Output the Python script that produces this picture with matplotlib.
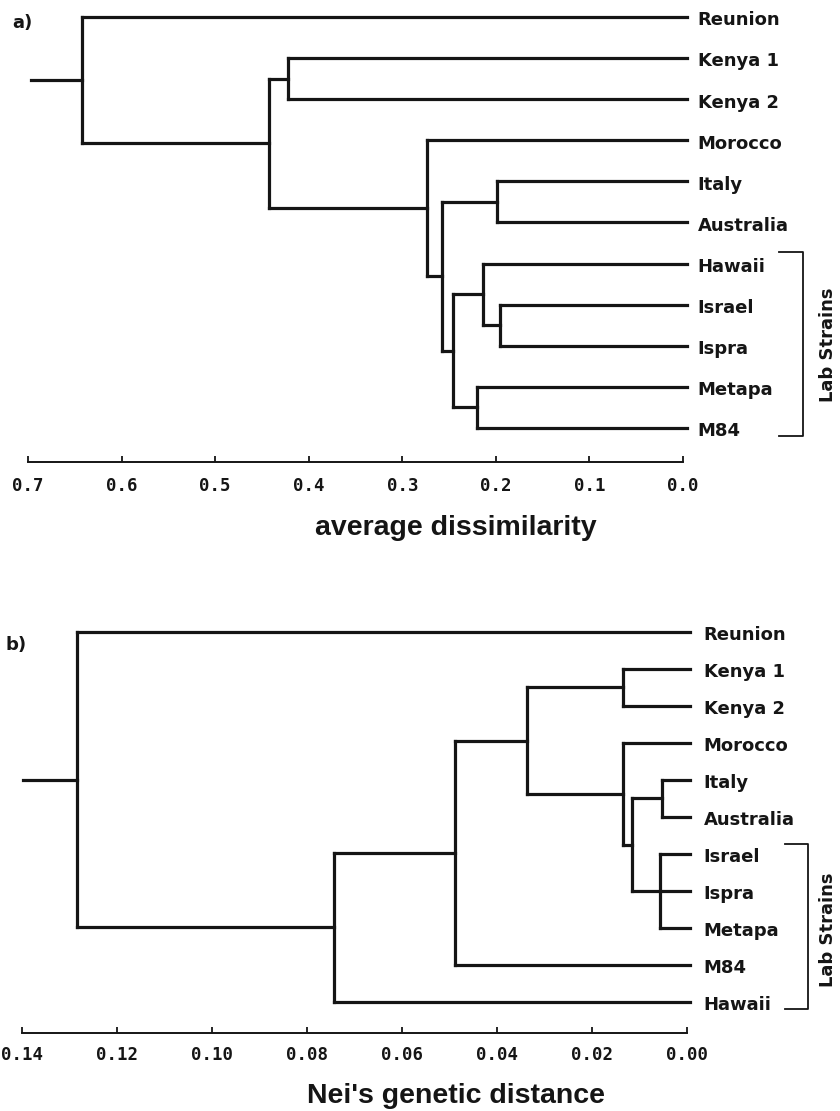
import matplotlib
matplotlib.use('Agg')
import matplotlib.pyplot as plt
import matplotlib.transforms as mtrans

W, H, DPI = 840, 1111, 100

# ---------------- data: panel a (average dissimilarity) ----------------
a_leaves = ['Reunion', 'Kenya 1', 'Kenya 2', 'Morocco', 'Italy', 'Australia',
            'Hawaii', 'Israel', 'Ispra', 'Metapa', 'M84']
# merges (indices: leaves 0..10, new nodes 11..)
a_children = [[7, 8], [4, 5], [6, 11], [9, 10], [13, 14], [12, 15],
              [3, 16], [1, 2], [18, 17], [0, 19]]
a_heights = [0.1955, 0.199, 0.2137, 0.220, 0.2457, 0.2575,
             0.2735, 0.422, 0.442, 0.642]
a_root_stub = 0.697
a_ticks = [0.7, 0.6, 0.5, 0.4, 0.3, 0.2, 0.1, 0.0]
a_ticklabels = ['0.7', '0.6', '0.5', '0.4', '0.3', '0.2', '0.1', '0.0']
a_xlabel = 'average dissimilarity'

# ---------------- data: panel b (Nei's genetic distance) ----------------
b_leaves = ['Reunion', 'Kenya 1', 'Kenya 2', 'Morocco', 'Italy', 'Australia',
            'Israel', 'Ispra', 'Metapa', 'M84', 'Hawaii']
b_children = [[6, 7, 8], [4, 5], [12, 11], [3, 13], [1, 2], [15, 14],
              [16, 9], [17, 10], [0, 18]]
b_heights = [0.0057, 0.0053, 0.0116, 0.0134, 0.0134, 0.0337,
             0.0488, 0.0743, 0.1284]
b_root_stub = 0.1398
b_ticks = [0.14, 0.12, 0.10, 0.08, 0.06, 0.04, 0.02, 0.00]
b_ticklabels = ['0.14', '0.12', '0.10', '0.08', '0.06', '0.04', '0.02', '0.00']
b_xlabel = "Nei's genetic distance"

bracket_label = 'Lab Strains'

LW = 2.3
LABEL_FONT = dict(family='DejaVu Sans', weight='bold', size=13)
TICK_FONT = dict(family='DejaVu Sans Mono', weight='bold', size=12.5)
XLABEL_FONT = dict(family='Liberation Sans', weight='bold', size=20.5)


def draw_tree(ax, leaves, children, heights, stub, overhang):
    n = len(leaves)
    pos_y = [float(i) for i in range(n)]
    pos_x = [0.0] * n
    kw = dict(color='#151515', lw=LW, solid_capstyle='projecting', clip_on=False)
    for ch, h in zip(children, heights):
        cy = [pos_y[c] for c in ch]
        ax.plot([h, h], [min(cy), max(cy)], **kw)
        for c in ch:
            x0 = pos_x[c] if c >= n else -overhang
            ax.plot([x0, h], [pos_y[c], pos_y[c]], **kw)
        pos_y.append(sum(cy) / len(cy))
        pos_x.append(h)
    ax.plot([stub, pos_x[-1]], [pos_y[-1], pos_y[-1]], **kw)


def setup_axis(ax, xmax, ylow, ticks, ticklabels, pad):
    ax.set_xlim(xmax, 0.0)
    ax.set_ylim(ylow, 0)
    for s in ['top', 'left', 'right']:
        ax.spines[s].set_visible(False)
    ax.spines['bottom'].set_linewidth(1.4)
    ax.spines['bottom'].set_color('#151515')
    ax.set_yticks([])
    ax.set_xticks(ticks, labels=ticklabels, **TICK_FONT)
    ax.tick_params(axis='x', direction='in', length=4, width=1.3,
                   pad=pad, colors='#151515')
    ax.patch.set_alpha(0)


def leaf_labels(ax, leaves, dx):
    for i, name in enumerate(leaves):
        ax.annotate(name, xy=(0, i), xytext=(dx, -6), textcoords='offset points',
                    ha='left', va='baseline', color='#151515', **LABEL_FONT)


def bracket(ax, y0, y1, x0, x1, xt, yt):
    tr = mtrans.blended_transform_factory(ax.transAxes, ax.transData)
    ax.plot([x0, x1, x1, x0], [y0, y0, y1, y1], color='#151515', lw=1.3,
            transform=tr, clip_on=False)
    ax.text(xt, yt, bracket_label, rotation=90, ha='center', va='center',
            transform=tr, color='#151515', **LABEL_FONT)


fig = plt.figure(figsize=(W / DPI, H / DPI), dpi=DPI)
fig.patch.set_facecolor('white')

# panel a: axes spans x 28..683 px, y 17..462 px
ax_a = fig.add_axes([28 / W, 1 - 462 / H, 655 / W, (462 - 17) / H])
setup_axis(ax_a, 0.7, 10.83, a_ticks, a_ticklabels, pad=11)
draw_tree(ax_a, a_leaves, a_children, a_heights, a_root_stub, 0.004)
leaf_labels(ax_a, a_leaves, 10.5)
bracket(ax_a, 5.73, 10.19, 1.1466, 1.1832, 1.2214, 7.98)

# panel b: axes spans x 22..687 px, y 632..1033 px
ax_b = fig.add_axes([22 / W, 1 - 1033 / H, 665 / W, (1033 - 632) / H])
setup_axis(ax_b, 0.14, 10.84, b_ticks, b_ticklabels, pad=9.5)
draw_tree(ax_b, b_leaves, b_children, b_heights, b_root_stub, 0.0006)
leaf_labels(ax_b, b_leaves, 12)
bracket(ax_b, 5.73, 10.19, 1.147, 1.182, 1.2120, 8.05)

fig.text(456 / W, 1 - 528 / H, a_xlabel, ha='center', va='center',
         color='#151515', **XLABEL_FONT)
fig.text(456 / W, 1 - 1096 / H, b_xlabel, ha='center', va='center',
         color='#151515', **XLABEL_FONT)
fig.text(22 / W, 1 - 23 / H, 'a)', ha='center', va='center',
         color='#151515', **LABEL_FONT)
fig.text(16 / W, 1 - 645 / H, 'b)', ha='center', va='center',
         color='#151515', **LABEL_FONT)

fig.savefig('out.png', dpi=DPI, facecolor='white')
